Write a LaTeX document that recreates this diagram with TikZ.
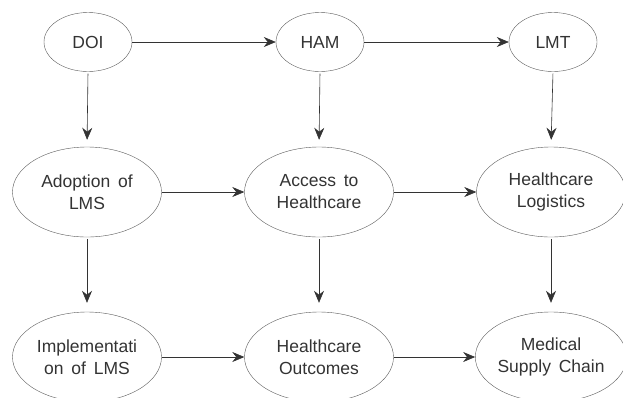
\documentclass[tikz,border=0pt]{standalone}
\usepackage{fontspec}
\setmainfont[WordSpace={1.6,0.5,0.5}]{Liberation Sans}
\usetikzlibrary{shapes.geometric,arrows.meta}
\tikzset{
	oval/.style={ellipse, draw=black!65, inner sep=0pt, align=center, text=black!80, font=\fontsize{17.5}{22}\selectfont},
	small/.style={oval, minimum width=88pt, minimum height=59pt},
	big/.style={oval, minimum width=149pt, minimum height=90pt},
	link/.style={-{Stealth[length=12pt,width=10pt]}, black!80, line width=0.6pt}
}
\begin{document}
\begin{tikzpicture}[x=1pt, y=-1pt]
	\useasboundingbox (0,0) rectangle (623,397);
	% top row
	\node[small] (doi) at (88,42) {DOI};
	\node[small] (ham) at (320,42) {HAM};
	\node[small] (lmt) at (553,42) {LMT};
	% middle row
	\node[big] (adopt) at (87,192) {Adoption of\\LMS};
	\node[big] (access) at (319,192) {Access to\\Healthcare};
	\node[big] (logist) at (551,192) {Healthcare\\Logistics};
	% bottom row
	\node[big] (impl) at (87,357) {Implementati\\on of LMS};
	\node[big] (outc) at (319,357) {Healthcare\\Outcomes};
	\node[big] (supply) at (551,357) {Medical\\Supply Chain};
	% horizontal arrows
	\draw[link] (doi.east) -- (ham.west);
	\draw[link] (ham.east) -- (lmt.west);
	\draw[link] (adopt.east) -- (access.west);
	\draw[link] (access.east) -- (logist.west);
	\draw[link] (impl.east) -- (outc.west);
	\draw[link] (outc.east) -- (supply.west);
	% vertical arrows
	\draw[link, shorten <=2pt, shorten >=7pt] (doi.south) -- (adopt.north);
	\draw[link, shorten <=2pt, shorten >=7pt] (ham.south) -- (access.north);
	\draw[link, shorten <=2pt, shorten >=7pt] (lmt.south) -- (logist.north);
	\draw[link, shorten <=2pt, shorten >=9pt] (adopt.south) -- (impl.north);
	\draw[link, shorten <=2pt, shorten >=9pt] (access.south) -- (outc.north);
	\draw[link, shorten <=2pt, shorten >=9pt] (logist.south) -- (supply.north);
\end{tikzpicture}
\end{document}
